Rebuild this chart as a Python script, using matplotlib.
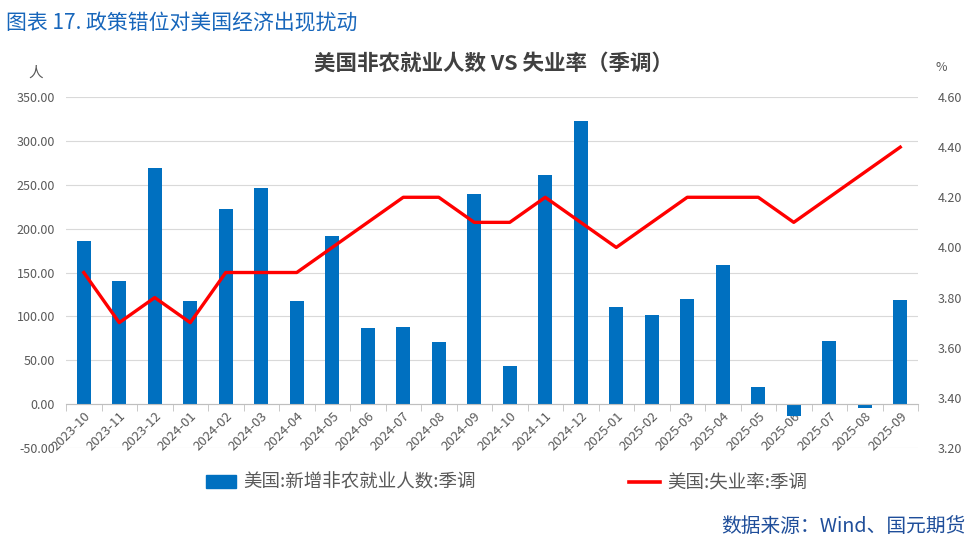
import matplotlib
matplotlib.use("Agg")
import matplotlib.pyplot as plt
import numpy as np
from matplotlib.patches import Patch
from matplotlib.lines import Line2D

plt.rcParams['font.family'] = ['Noto Sans CJK SC', 'DejaVu Sans']

months = ["2023-10", "2023-11", "2023-12", "2024-01", "2024-02", "2024-03", "2024-04",
          "2024-05", "2024-06", "2024-07", "2024-08", "2024-09", "2024-10", "2024-11",
          "2024-12", "2025-01", "2025-02", "2025-03", "2025-04", "2025-05", "2025-06",
          "2025-07", "2025-08", "2025-09"]
payrolls = [186, 140, 269, 118, 222, 246, 117, 192, 87, 88, 71, 240, 44, 261,
            323, 111, 102, 120, 158, 19, -13, 72, -4, 119]
unemployment = [3.9, 3.7, 3.8, 3.7, 3.9, 3.9, 3.9, 4.0, 4.1, 4.2, 4.2, 4.1, 4.1, 4.2,
                4.1, 4.0, 4.1, 4.2, 4.2, 4.2, 4.1, 4.2, 4.3, 4.4]
left_ticks = [-50, 0, 50, 100, 150, 200, 250, 300, 350]
right_ticks = [3.2, 3.4, 3.6, 3.8, 4.0, 4.2, 4.4, 4.6]

BLUE = "#0070C0"
RED = "#FF0000"
GREY = "#595959"

fig = plt.figure(figsize=(9.74, 5.45), dpi=100)
ax = fig.add_axes([66/974, 1-448/545, (918-66)/974, (448-97)/545])
x = np.arange(len(months))

ax.bar(x, payrolls, width=0.4, color=BLUE, zorder=3)
ax.set_xlim(-0.5, len(months)-0.5)
ax.set_ylim(-50, 350)
ax.set_yticks(left_ticks)
ax.set_yticklabels([f"{v:.2f}" for v in left_ticks])
ax.grid(axis='y', color="#d9d9d9", linewidth=0.8, zorder=0)
for s in ['top', 'right', 'left']:
    ax.spines[s].set_visible(False)
ax.spines['bottom'].set_position(('data', 0))
ax.spines['bottom'].set_color("#bfbfbf")
ax.spines['bottom'].set_zorder(4)
ax.set_xticks(x)
ax.set_xticklabels(months, rotation=45, ha='right', va='top', rotation_mode='anchor',
                   fontsize=9.5, color=GREY)
ax.set_xticks(np.arange(-0.5, len(months)), minor=True)
ax.tick_params(axis='x', which='major', length=0, pad=4)
ax.tick_params(axis='x', which='minor', length=5, color="#bfbfbf", direction='out')
ax.tick_params(axis='y', length=0, labelsize=9, labelcolor=GREY, pad=8)

ax2 = ax.twinx()
ax2.plot(x, unemployment, color=RED, linewidth=2.4, zorder=5)
ax2.set_ylim(3.2, 4.6)
ax2.set_yticks(right_ticks)
ax2.set_yticklabels([f"{v:.2f}" for v in right_ticks])
ax2.tick_params(axis='y', length=0, labelsize=9, labelcolor=GREY, pad=14)
for s in ax2.spines.values():
    s.set_visible(False)

fig.text(0.006, 0.978, "图表 17. 政策错位对美国经济出现扰动", fontsize=15,
         color="#1766BB", ha='left', va='top')
fig.text(493/974, 1-63/545, "美国非农就业人数 VS 失业率（季调）", fontsize=15.5,
         fontweight='bold', color="#404040", ha='center', va='center')
fig.text(36/974, 1-73/545, "人", fontsize=10.5, color=GREY, ha='center', va='center')
fig.text(941/974, 1-67/545, "%", fontsize=9, color=GREY, ha='center', va='center')
fig.text(0.991, 1-527/545, "数据来源：Wind、国元期货", fontsize=14.2,
         color="#1F4E9A", ha='right', va='center')

handles = [Patch(facecolor=BLUE, edgecolor=BLUE),
           Line2D([0], [0], color=RED, linewidth=2.6)]
labels = ["美国:新增非农就业人数:季调", "美国:失业率:季调"]
leg = fig.legend(handles, labels, loc='center', bbox_to_anchor=(0.52, 1-483/545),
                 ncol=2, frameon=False, fontsize=13.3, columnspacing=8.3,
                 handlelength=1.65, handletextpad=0.4)
for t in leg.get_texts():
    t.set_color(GREY)

fig.savefig("out.png", dpi=100)
